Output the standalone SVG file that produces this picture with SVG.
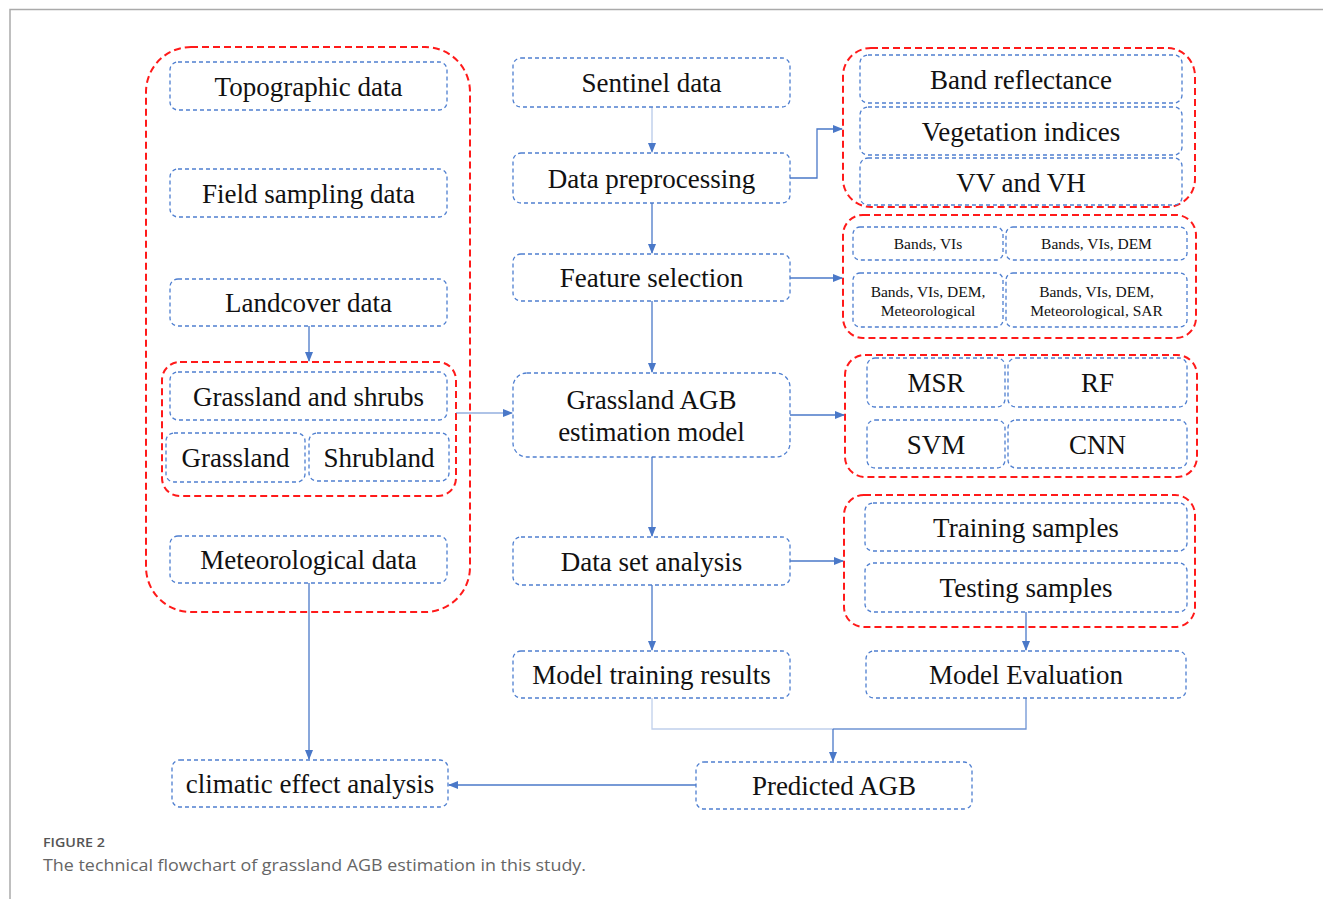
<svg xmlns="http://www.w3.org/2000/svg" width="1323" height="899" viewBox="0 0 1323 899">
<defs>
<style>
.b{fill:#fff;stroke:#4f7fd0;stroke-width:1.3;stroke-dasharray:4 3}
.r{fill:none;stroke:#ff1a1a;stroke-width:2;stroke-dasharray:7 4}
.t{font-family:"Liberation Serif","Times New Roman",serif;font-size:27px;fill:#111;text-anchor:middle}
.s{font-family:"Liberation Serif","Times New Roman",serif;font-size:15.5px;fill:#111;text-anchor:middle}
.c{fill:none;stroke:#4a78c8;stroke-width:1.3}
</style>
<marker id="a" markerWidth="10" markerHeight="10" refX="9" refY="5" orient="auto" markerUnits="userSpaceOnUse">
<path d="M0,1 L10,5 L0,9 Z" fill="#4a78c8"/>
</marker>
</defs>
<rect width="1323" height="899" fill="#fff"/>
<path d="M10,899 V9.5 H1323" fill="none" stroke="#aaa" stroke-width="1.5"/>

<g id="group-left">
<rect class="r" x="146" y="47" width="324" height="565" rx="45"/>
</g>
<g id="topographic"><rect class="b" x="170" y="62" width="277" height="48" rx="8"/><text class="t" x="308.5" y="96">Topographic data</text></g>
<g id="field"><rect class="b" x="170" y="169" width="277" height="48" rx="8"/><text class="t" x="308.5" y="203">Field sampling data</text></g>
<g id="landcover"><rect class="b" x="170" y="279" width="277" height="47" rx="8"/><text class="t" x="308.5" y="312">Landcover data</text></g>
<g id="group-grass"><rect class="r" x="162" y="362" width="294" height="134" rx="18"/></g>
<g id="grass-shrubs"><rect class="b" x="170" y="372" width="277" height="48" rx="8"/><text class="t" x="308.5" y="406">Grassland and shrubs</text></g>
<g id="grassland"><rect class="b" x="166" y="433" width="139" height="49" rx="8"/><text class="t" x="235.5" y="467">Grassland</text></g>
<g id="shrubland"><rect class="b" x="309" y="433" width="140" height="48" rx="8"/><text class="t" x="379" y="467">Shrubland</text></g>
<g id="meteorological"><rect class="b" x="170" y="536" width="277" height="47" rx="8"/><text class="t" x="308.5" y="569">Meteorological data</text></g>

<g id="sentinel"><rect class="b" x="513" y="58" width="277" height="49" rx="8"/><text class="t" x="651.5" y="92">Sentinel data</text></g>
<g id="preprocessing"><rect class="b" x="513" y="153" width="277" height="50" rx="8"/><text class="t" x="651.5" y="188">Data preprocessing</text></g>
<g id="feature"><rect class="b" x="513" y="254" width="277" height="47" rx="8"/><text class="t" x="651.5" y="287">Feature selection</text></g>
<g id="agb-model"><rect class="b" x="513" y="373" width="277" height="84" rx="14"/><text class="t" x="651.5" y="409">Grassland AGB</text><text class="t" x="651.5" y="441">estimation model</text></g>
<g id="dataset"><rect class="b" x="513" y="537" width="277" height="48" rx="8"/><text class="t" x="651.5" y="571">Data set analysis</text></g>
<g id="training-results"><rect class="b" x="513" y="651" width="277" height="47" rx="8"/><text class="t" x="651.5" y="684">Model training results</text></g>

<g id="group-bands"><rect class="r" x="843" y="48" width="352" height="159" rx="28"/></g>
<g id="band-reflectance"><rect class="b" x="860" y="55" width="322" height="48" rx="8"/><text class="t" x="1021" y="89">Band reflectance</text></g>
<g id="vegetation"><rect class="b" x="860" y="107" width="322" height="48" rx="8"/><text class="t" x="1021" y="141">Vegetation indices</text></g>
<g id="vvvh"><rect class="b" x="860" y="158" width="322" height="47" rx="8"/><text class="t" x="1021" y="192">VV and VH</text></g>

<g id="group-features"><rect class="r" x="843" y="215" width="353" height="123" rx="20"/></g>
<g id="f1"><rect class="b" x="853" y="227" width="150" height="33" rx="7"/><text class="s" x="928" y="249">Bands, VIs</text></g>
<g id="f2"><rect class="b" x="1006" y="227" width="181" height="33" rx="7"/><text class="s" x="1096.5" y="249">Bands, VIs, DEM</text></g>
<g id="f3"><rect class="b" x="853" y="273" width="150" height="54" rx="7"/><text class="s" x="928" y="297">Bands, VIs, DEM,</text><text class="s" x="928" y="316">Meteorological</text></g>
<g id="f4"><rect class="b" x="1006" y="273" width="181" height="54" rx="7"/><text class="s" x="1096.5" y="297">Bands, VIs, DEM,</text><text class="s" x="1096.5" y="316">Meteorological, SAR</text></g>

<g id="group-models"><rect class="r" x="845" y="355" width="352" height="122" rx="20"/></g>
<g id="msr"><rect class="b" x="867" y="358" width="138" height="49" rx="8"/><text class="t" x="936" y="392">MSR</text></g>
<g id="rf"><rect class="b" x="1008" y="358" width="179" height="49" rx="8"/><text class="t" x="1097.5" y="392">RF</text></g>
<g id="svm"><rect class="b" x="867" y="420" width="138" height="48" rx="8"/><text class="t" x="936" y="454">SVM</text></g>
<g id="cnn"><rect class="b" x="1008" y="420" width="179" height="48" rx="8"/><text class="t" x="1097.5" y="454">CNN</text></g>

<g id="group-samples"><rect class="r" x="844" y="495" width="351" height="132" rx="20"/></g>
<g id="training"><rect class="b" x="865" y="503" width="322" height="48" rx="8"/><text class="t" x="1026" y="537">Training samples</text></g>
<g id="testing"><rect class="b" x="865" y="563" width="322" height="49" rx="8"/><text class="t" x="1026" y="597">Testing samples</text></g>

<g id="evaluation"><rect class="b" x="866" y="651" width="320" height="47" rx="8"/><text class="t" x="1026" y="684">Model Evaluation</text></g>
<g id="predicted"><rect class="b" x="696" y="762" width="276" height="47" rx="8"/><text class="t" x="834" y="795">Predicted AGB</text></g>
<g id="climatic"><rect class="b" x="172" y="760" width="276" height="47" rx="8"/><text class="t" x="310" y="793">climatic effect analysis</text></g>

<g id="connectors">
<path class="c" d="M309,326 V361" marker-end="url(#a)"/>
<path class="c" d="M456,413 H512" stroke-opacity="0.6" marker-end="url(#a)"/>
<path class="c" d="M309,583 V759" marker-end="url(#a)"/>
<path class="c" d="M652,107 V152" stroke-opacity="0.4" marker-end="url(#a)"/>
<path class="c" d="M652,203 V253" marker-end="url(#a)"/>
<path class="c" d="M652,301 V372" marker-end="url(#a)"/>
<path class="c" d="M652,457 V536" marker-end="url(#a)"/>
<path class="c" d="M652,585 V650" marker-end="url(#a)"/>
<path class="c" d="M790,178 H817 V129 H842" marker-end="url(#a)"/>
<path class="c" d="M790,278 H842" marker-end="url(#a)"/>
<path class="c" d="M790,415 H844" marker-end="url(#a)"/>
<path class="c" d="M790,561 H843" marker-end="url(#a)"/>
<path class="c" d="M1026,612 V650" marker-end="url(#a)"/>
<path class="c" d="M652,698 V729 H833" stroke-opacity="0.35"/>
<path class="c" d="M833,729 H1026 V698" stroke-opacity="0.8"/>
<path class="c" d="M833,729 V761" marker-end="url(#a)"/>
<path class="c" d="M696,785 H449" marker-end="url(#a)"/>
</g>

<text x="43" y="847" font-family="'Open Sans',Lato,sans-serif" font-size="13" font-weight="600" fill="#555" textLength="62" lengthAdjust="spacingAndGlyphs">FIGURE 2</text>
<text x="43" y="871" font-family="'Open Sans',Lato,sans-serif" font-size="17" fill="#666" textLength="543" lengthAdjust="spacingAndGlyphs">The technical flowchart of grassland AGB estimation in this study.</text>
</svg>
